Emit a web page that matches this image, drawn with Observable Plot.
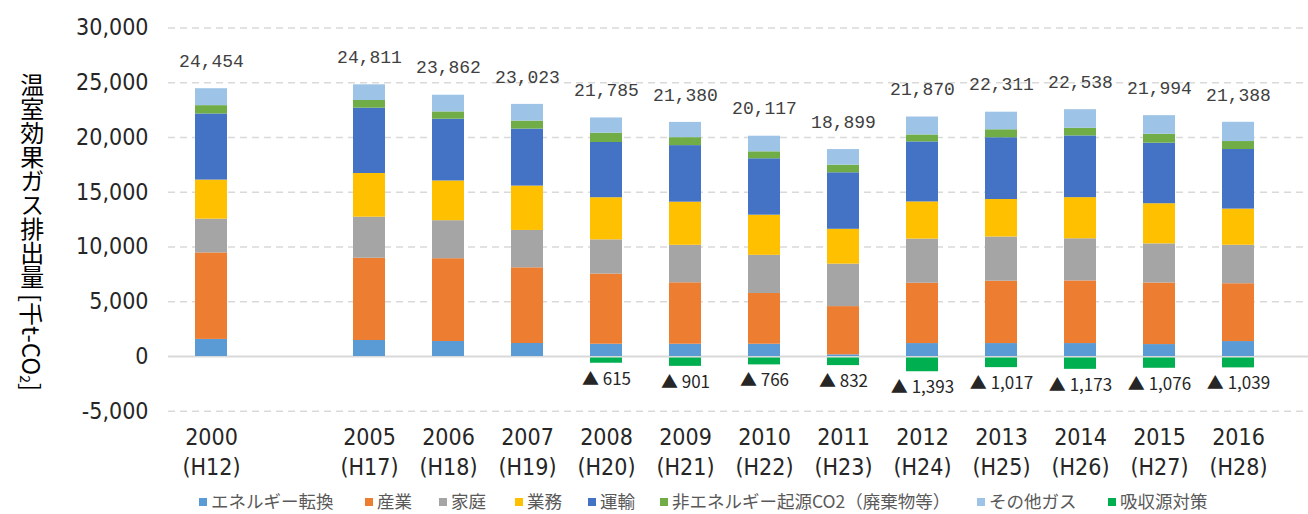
<!DOCTYPE html>
<html><head><meta charset="utf-8">
<script src="https://cdn.jsdelivr.net/npm/d3@7"></script>
<script src="https://cdn.jsdelivr.net/npm/@observablehq/plot@0.6"></script>
<style>
body{margin:0;background:#fff;}
#wrap{position:relative;width:1308px;height:514px;background:#fff;}
#ytitle{position:absolute;left:14px;top:73px;writing-mode:vertical-rl;text-orientation:mixed;font-family:"Noto Sans CJK JP",sans-serif;font-size:24px;line-height:24px;color:#000;white-space:nowrap;}
#ytitle .side{text-orientation:sideways;}
#ytitle sub{font-size:14px;}
.leg{position:absolute;top:489px;line-height:24px;font-family:"Noto Sans CJK JP",sans-serif;font-size:17.5px;color:#595959;white-space:nowrap;}
.leg i{display:inline-block;width:8px;height:8px;margin-right:4px;vertical-align:middle;position:relative;top:-1px;}
</style>
</head><body>
<div id="wrap"></div>
<script>
// ---- data ----
const years = ["2000","2005","2006","2007","2008","2009","2010","2011","2012","2013","2014","2015","2016"];
const heisei = ["H12","H17","H18","H19","H20","H21","H22","H23","H24","H25","H26","H27","H28"];
const seriesNames = ["エネルギー転換","産業","家庭","業務","運輸","非エネルギー起源CO2（廃棄物等）","その他ガス","吸収源対策"];
const seriesColors = ["#5b9bd5","#ed7d31","#a5a5a5","#ffc000","#4472c4","#70ad47","#9dc3e6","#00b050"];
const energyConversion = [1560,1463,1371,1188,1121,1121,1121,152,1182,1182,1182,1091,1364];
const industry        = [7900,7510,7560,6910,6410,5610,4635,4405,5510,5700,5720,5620,5280];
const household       = [3080,3748,3474,3413,3121,3424,3485,3878,4030,4030,3848,3575,3515];
const business        = [3570,3992,3626,4053,3848,3939,3666,3182,3394,3424,3757,3666,3303];
const transport       = [6040,5965,5637,5204,5043,5165,5150,5161,5482,5642,5637,5527,5442];
const nonEnergyCO2    = [760,701,670,731,848,727,636,697,636,727,697,818,727];
const otherGases      = [1544,1432,1524,1524,1394,1394,1424,1424,1636,1606,1697,1697,1757];
const totals          = [24454,24811,23862,23023,21785,21380,20117,18899,21870,22311,22538,21994,21388];
const absorption      = [null,null,null,null,615,901,766,832,1393,1017,1173,1076,1039];
const yTicks = [-5000,0,5000,10000,15000,20000,25000,30000];

// ---- build tables ----
const seriesValues = [energyConversion,industry,household,business,transport,nonEnergyCO2,otherGases];
const rows = [];
years.forEach((yr,i)=>seriesValues.forEach((vals,j)=>rows.push({year:yr,series:seriesNames[j],value:vals[i]})));
const totalRows = years.map((yr,i)=>({year:yr,total:totals[i]}));
const absRows = years.map((yr,i)=>({year:yr,series:seriesNames[7],value:absorption[i]})).filter(d=>d.value!=null);
const xDomain = [years[0]," ",...years.slice(1)];
const fmt = d3.format(",");
const narrow = "'Liberation Sans Narrow','DejaVu Sans Condensed','Liberation Sans',sans-serif";

const chart = Plot.plot({
  width:1308, height:488,
  marginLeft:168, marginRight:0, marginTop:27.5, marginBottom:77.25,
  style:{background:"#fff", fontFamily:narrow, color:"#262626"},
  x:{domain:xDomain, range:[168,1281], paddingInner:0.6, paddingOuter:0.3},
  y:{domain:[-5000,30000]},
  color:{domain:seriesNames, range:seriesColors},
  marks:[
    Plot.ruleY(yTicks.filter(v=>v!==0), {stroke:"#d9d9d9", strokeWidth:1.5, strokeDasharray:"7,5"}),
    Plot.ruleY([0], {stroke:"#d9d9d9", strokeWidth:2}),
    Plot.barY(rows, {x:"year", y:"value", fill:"series"}),
    Plot.barY(absRows, {x:"year", y1:0, y2:d=>-d.value, fill:"series", insetTop:1.5}),
    Plot.text(totalRows, {x:"year", y:"total", text:d=>fmt(d.total), dy:-27.5, fontSize:18, fontFamily:"'Liberation Mono','DejaVu Sans Mono',monospace", fill:"#404040"}),
    Plot.text(absRows, {x:"year", y:d=>-d.value, text:d=>"▲ "+fmt(d.value), dy:16, fontSize:17, fontFamily:"'Noto Sans CJK JP',sans-serif", fill:"#262626"}),
    Plot.axisY(yTicks, {tickFormat:d=>fmt(d).replace("−","-"), tickSize:0, tickPadding:20, fontSize:23, label:null}),
    Plot.axisX({tickFormat:d=>d.trim()?`${d}\n(${heisei[years.indexOf(d)]})`:"", tickSize:0, tickPadding:13, fontSize:23, lineHeight:1.3, label:null})
  ]
});
const wrap = document.getElementById("wrap");
wrap.appendChild(chart);

const t = document.createElement("div");
t.id = "ytitle";
t.innerHTML = '温室効果ガス排出量 <span class="side">[千t-CO<sub>2</sub>]</span>';
wrap.appendChild(t);

const legendX = [199,365,439,515,588,660,977,1108];
seriesNames.forEach((name,i)=>{
  const d = document.createElement("div");
  d.className = "leg";
  d.style.left = legendX[i]+"px";
  d.innerHTML = `<i style="background:${seriesColors[i]}"></i>${name}`;
  wrap.appendChild(d);
});
</script>
</body></html>
